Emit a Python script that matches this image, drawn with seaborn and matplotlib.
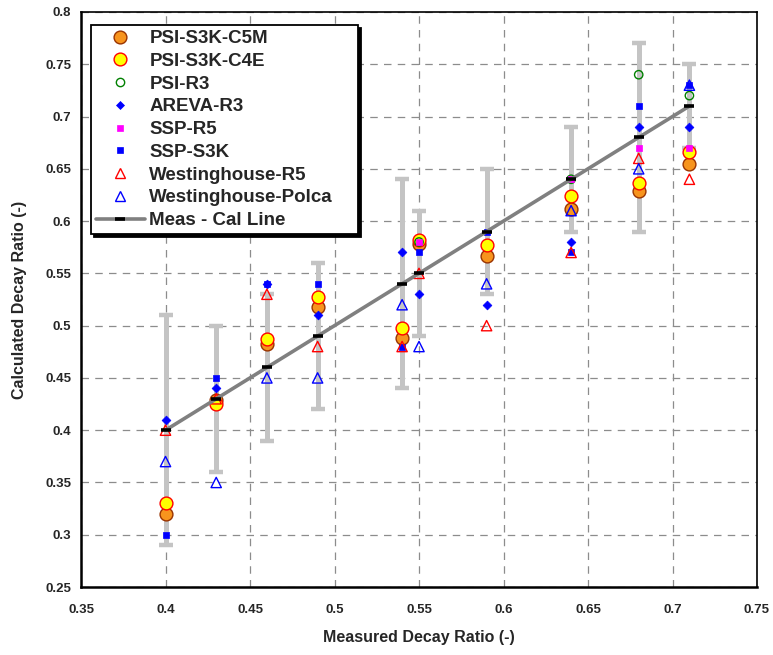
import numpy as np
import pandas as pd
import matplotlib
matplotlib.use('Agg')
import matplotlib.pyplot as plt
import seaborn as sns
from matplotlib.lines import Line2D

nan = np.nan

# measured decay ratios (x) and the measurement band around them
measured = [0.40, 0.43, 0.46, 0.49, 0.54, 0.55, 0.59, 0.64, 0.68, 0.71]
err_low = [0.29, 0.36, 0.39, 0.42, 0.44, 0.49, 0.53, 0.59, 0.59, 0.67]
err_high = [0.51, 0.50, 0.53, 0.56, 0.64, 0.61, 0.65, 0.69, 0.77, 0.75]

# calculated decay ratios per code
psi_c5m = [0.32, 0.429, 0.482, 0.518, 0.488, 0.578, 0.567, 0.612, 0.629, 0.655]
psi_c4e = [0.33, 0.425, 0.487, 0.527, 0.498, 0.582, 0.577, 0.624, 0.636, 0.666]
psi_r3 = [nan, nan, nan, nan, nan, 0.58, nan, 0.64, 0.74, 0.72]
areva_r3 = [0.41, 0.44, 0.54, 0.51, 0.57, 0.53, 0.52, 0.58, 0.69, 0.69]
ssp_r5 = [nan, nan, nan, nan, nan, 0.58, nan, 0.64, 0.67, 0.67]
ssp_s3k = [0.30, 0.45, 0.54, 0.54, 0.48, 0.57, 0.59, 0.57, 0.71, 0.73]
west_r5 = [0.40, 0.43, 0.53, 0.48, 0.48, 0.55, 0.50, 0.57, 0.66, 0.64]
west_polca = [0.37, 0.35, 0.45, 0.45, 0.52, 0.48, 0.54, 0.61, 0.65, 0.73]

x_ticks = [0.35, 0.4, 0.45, 0.5, 0.55, 0.6, 0.65, 0.7, 0.75]
y_ticks = [0.25, 0.3, 0.35, 0.4, 0.45, 0.5, 0.55, 0.6, 0.65, 0.7, 0.75, 0.8]

series = [
    ('PSI-S3K-C5M', psi_c5m, dict(marker='o', s=85, facecolor='#f7941d', edgecolor='#993300', lw=1.0, ms=9.2)),
    ('PSI-S3K-C4E', psi_c4e, dict(marker='o', s=85, facecolor='#ffff00', edgecolor='#ff0000', lw=1.0, ms=9.2)),
    ('PSI-R3', psi_r3, dict(marker='o', s=36, facecolor='none', edgecolor='#008000', lw=1.0, ms=6)),
    ('AREVA-R3', areva_r3, dict(marker='D', s=20, facecolor='#0000ff', edgecolor='#0000ff', lw=0.5, ms=4.5)),
    ('SSP-R5', ssp_r5, dict(marker='s', s=24, facecolor='#ff00ff', edgecolor='#ff00ff', lw=0.5, ms=5)),
    ('SSP-S3K', ssp_s3k, dict(marker='s', s=24, facecolor='#0000ff', edgecolor='#0000ff', lw=0.5, ms=5)),
    ('Westinghouse-R5', west_r5, dict(marker='^', s=55, facecolor='none', edgecolor='#ff0000', lw=1.0, ms=7.5)),
    ('Westinghouse-Polca', west_polca, dict(marker='^', s=55, facecolor='none', edgecolor='#0000ff', lw=1.0, ms=7.5)),
]

sns.set_style('white')
plt.rcParams['font.family'] = ['Liberation Sans', 'DejaVu Sans']
plt.rcParams['font.weight'] = 'bold'

fig = plt.figure(figsize=(7.73, 6.55), dpi=100)
ax = fig.add_axes([0.1048, 0.1038, 0.8745, 0.8779])

# measurement bands
lo = np.array(measured) - np.array(err_low)
hi = np.array(err_high) - np.array(measured)
ax.errorbar(measured, measured, yerr=[lo, hi], fmt='none', ecolor='#c4c4c4',
            elinewidth=3.6, capsize=5, capthick=3.2, zorder=2)

for name, vals, st in series:
    df = pd.DataFrame({'x': measured, 'y': vals}).dropna()
    sns.scatterplot(data=df, x='x', y='y', ax=ax, marker=st['marker'], s=st['s'],
                    color=st['edgecolor'], facecolor=st['facecolor'],
                    edgecolor=st['edgecolor'], linewidth=st['lw'], legend=False, zorder=3)

line_df = pd.DataFrame({'x': measured, 'y': measured})
sns.lineplot(data=line_df, x='x', y='y', ax=ax, color='#808080', lw=2.6, zorder=4)
ax.plot(measured, measured, ls='none', marker='_', ms=7, mew=2.6, color='black', zorder=5)

ax.set_xlim(0.35, 0.75)
ax.set_ylim(0.25, 0.8)
ax.set_xticks(x_ticks)
ax.set_yticks(y_ticks)
ax.set_xticklabels([f'{v:g}' for v in x_ticks])
ax.set_yticklabels([f'{v:g}' for v in y_ticks])
ax.tick_params(axis='both', labelsize=9.5, length=4, width=1, color='#777777', pad=3)
ax.tick_params(axis='x', pad=8)
for lab in ax.get_xticklabels() + ax.get_yticklabels():
    lab.set_fontweight('bold')

ax.grid(True, color='#8c8c8c', linestyle=(0, (6, 5)), linewidth=0.9)
ax.set_axisbelow(True)
for sp in ax.spines.values():
    sp.set_color('black')
    sp.set_linewidth(1.2)
ax.spines['left'].set_linewidth(1.8)
ax.spines['bottom'].set_linewidth(1.8)

ax.set_xlabel('Measured Decay Ratio (-)', fontsize=11.5, fontweight='bold')
ax.set_ylabel('Calculated Decay Ratio (-)', fontsize=11.5, fontweight='bold')
ax.xaxis.set_label_coords(0.5, -0.074)
ax.yaxis.set_label_coords(-0.08, 0.5)

handles = []
for name, vals, st in series:
    handles.append(Line2D([], [], ls='none', marker=st['marker'], ms=st['ms'],
                          markerfacecolor=st['facecolor'], markeredgecolor=st['edgecolor'],
                          markeredgewidth=st['lw']))
handles.append(Line2D([], [], color='#808080', lw=2.6, marker='_', ms=7, mew=2.6,
                      markeredgecolor='black'))
labels = [s[0] for s in series] + ['Meas - Cal Line']

leg = ax.legend(handles, labels, loc='upper left', mode='expand',
                bbox_to_anchor=(0.0148, 0.5, 0.395, 0.477),
                borderaxespad=0, fancybox=False, framealpha=1, edgecolor='black',
                shadow={'color': 'black', 'alpha': 1},
                labelspacing=0.3, handlelength=2.6, handletextpad=0.25, borderpad=0.26,
                prop={'weight': 'bold', 'size': 13.5})
leg.get_frame().set_linewidth(1.3)
leg.set_zorder(10)

fig.savefig('out.png', dpi=100)
